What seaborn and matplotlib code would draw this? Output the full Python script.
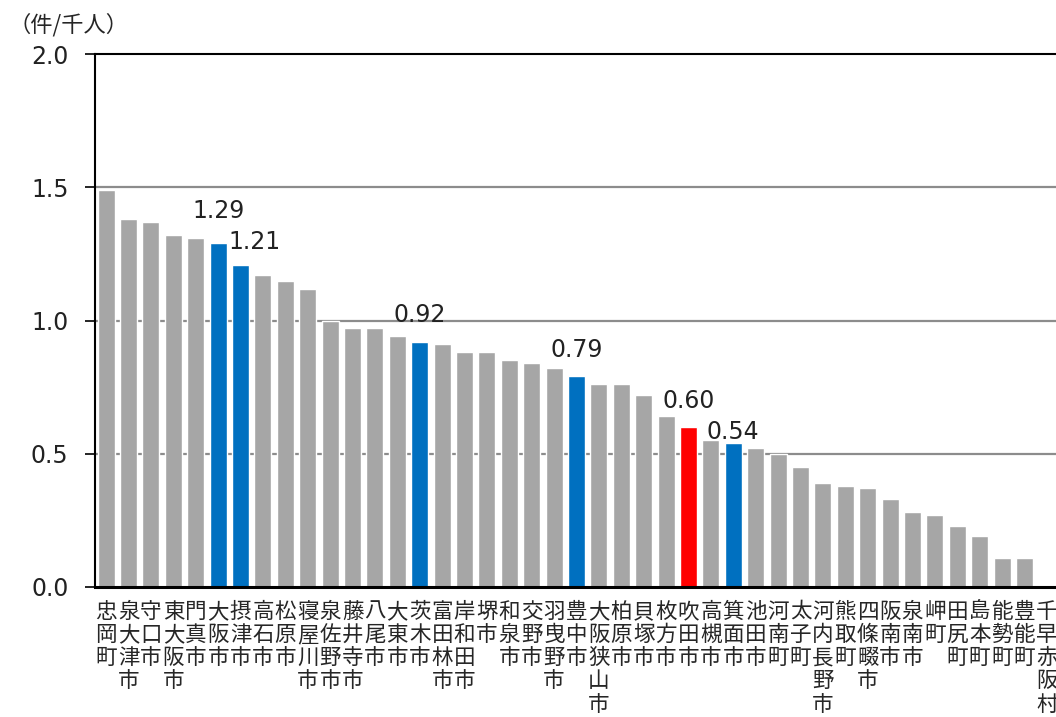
import matplotlib
matplotlib.use("Agg")
import matplotlib.pyplot as plt
import numpy as np
import seaborn as sns

# municipalities (Osaka prefecture), cases per 1,000 people
names = [
    "忠岡町", "泉大津市", "守口市", "東大阪市", "門真市", "大阪市", "摂津市", "高石市",
    "松原市", "寝屋川市", "泉佐野市", "藤井寺市", "八尾市", "大東市", "茨木市", "富田林市",
    "岸和田市", "堺市", "和泉市", "交野市", "羽曳野市", "豊中市", "大阪狭山市", "柏原市",
    "貝塚市", "枚方市", "吹田市", "高槻市", "箕面市", "池田市", "河南町", "太子町",
    "河内長野市", "熊取町", "四條畷市", "阪南市", "泉南市", "岬町", "田尻町", "島本町",
    "能勢町", "豊能町", "千早赤阪村",
]
values = [
    1.49, 1.38, 1.37, 1.32, 1.31, 1.29, 1.21, 1.17,
    1.15, 1.12, 1.00, 0.97, 0.97, 0.94, 0.92, 0.91,
    0.88, 0.88, 0.85, 0.84, 0.82, 0.79, 0.76, 0.76,
    0.72, 0.64, 0.60, 0.55, 0.54, 0.52, 0.50, 0.45,
    0.39, 0.38, 0.37, 0.33, 0.28, 0.27, 0.23, 0.19,
    0.11, 0.11, 0.0,
]
blue_names = ["大阪市", "摂津市", "茨木市", "豊中市", "箕面市"]
red_names = ["吹田市"]
labeled = ["大阪市", "摂津市", "茨木市", "豊中市", "吹田市", "箕面市"]
y_ticks = [0.0, 0.5, 1.0, 1.5, 2.0]

# label offsets in points (dx, dy) from bar top
label_offsets = {
    "大阪市": (0, 18), "摂津市": (10, 11), "茨木市": (0, 14),
    "豊中市": (0, 14), "吹田市": (0, 14), "箕面市": (0, 3),
}

GRAY, BLUE, RED = "#A6A6A6", "#0070C0", "#FF0000"
palette = {n: (RED if n in red_names else BLUE if n in blue_names else GRAY) for n in names}
num_font = ["DejaVu Sans"]

sns.set_style("white")
plt.rcParams["font.family"] = ["Noto Sans CJK JP", "DejaVu Sans"]

fig = plt.figure(figsize=(10.56, 7.17), dpi=100)
W, H = 1056, 717
left, right, top, bottom = 95, 1058, 54, 587
ax = fig.add_axes([left / W, 1 - bottom / H, (right - left) / W, (bottom - top) / H])

sns.barplot(x=names, y=values, hue=names, palette=palette, legend=False,
            width=0.76, edgecolor="white", linewidth=1.0, saturation=1, ax=ax, zorder=2)

ax.set_xlim(-0.5, len(names) - 0.5)
ax.set_ylim(0, 2.0)
ax.set_yticks(y_ticks)
ax.set_yticklabels([f"{t:.1f}" for t in y_ticks], fontsize=17, family=num_font,
                   color="#222222")
for t in y_ticks[1:-1]:
    ax.axhline(t, color="#8C8C8C", linewidth=1.6, zorder=1)

ax.set_xticks(range(len(names)))
ax.set_xticklabels(["\n".join(n) for n in names], fontsize=15.5, linespacing=1.07,
                   va="top")
ax.tick_params(axis="x", which="major", length=0, pad=10)
ax.set_xticks(np.arange(-0.5, len(names)), minor=True)
ax.tick_params(axis="x", which="minor", length=6, width=1.5, color="black", direction="out")
ax.tick_params(axis="y", length=7, width=1.2, color="black", direction="out", pad=12, left=True)

for s in ["left", "top"]:
    ax.spines[s].set_color("black")
    ax.spines[s].set_linewidth(1.5)
ax.spines["bottom"].set_color("black")
ax.spines["bottom"].set_linewidth(2.2)
ax.spines["right"].set_visible(False)
ax.set_xlabel("")
ax.set_ylabel("")

for n in labeled:
    i = names.index(n)
    dx, dy = label_offsets[n]
    ax.annotate(f"{values[i]:.2f}", xy=(i, values[i]), xytext=(dx, dy),
                textcoords="offset points", ha="center", va="baseline",
                fontsize=17, family=num_font, color="#222222", zorder=3)

fig.text(8 / W, 1 - 25 / H, "（件/千人）", fontsize=16, ha="left", va="center")

fig.savefig("out.png", dpi=100)
